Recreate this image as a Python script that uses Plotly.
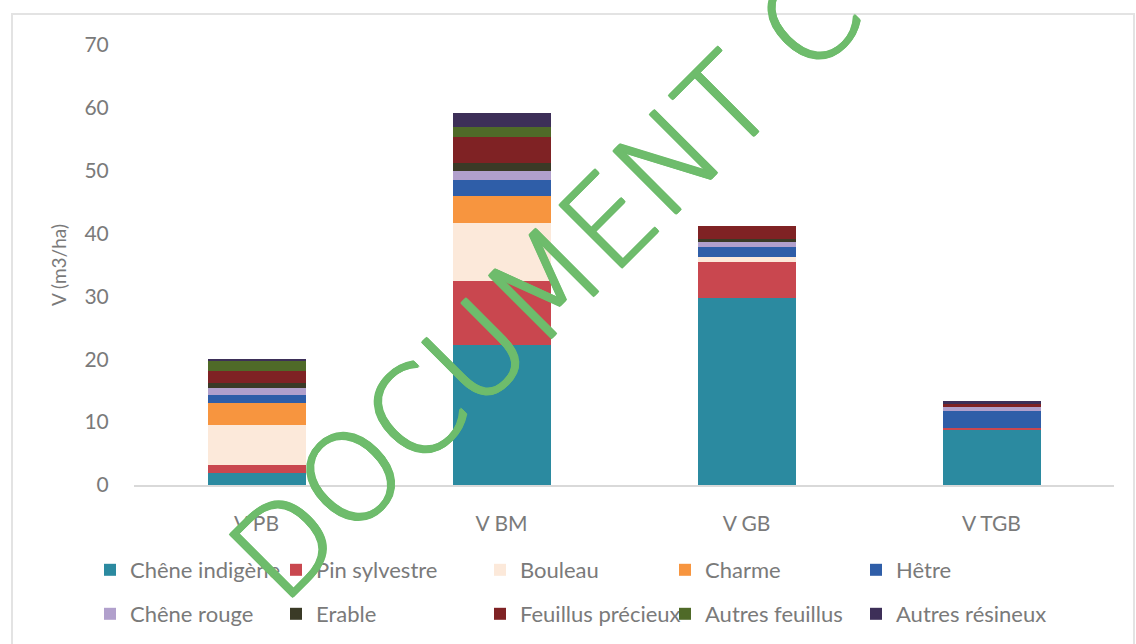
import plotly.graph_objects as go

# Volume per hectare by diameter class, stacked by species
categories = ["V PB", "V BM", "V GB", "V TGB"]

chene_indigene = [1.9, 22.3, 29.7, 8.8]
pin_sylvestre = [1.3, 10.1, 5.8, 0.2]
bouleau = [6.4, 9.3, 0.8, 0.0]
charme = [3.4, 4.2, 0.0, 0.0]
hetre = [1.3, 2.7, 1.6, 2.8]
chene_rouge = [1.1, 1.3, 0.8, 0.6]
erable = [0.8, 1.3, 0.4, 0.0]
feuillus_precieux = [2.0, 4.1, 2.1, 0.5]
autres_feuillus = [1.6, 1.7, 0.0, 0.0]
autres_resineux = [0.3, 2.2, 0.0, 0.4]

series = [
    ("Chêne indigène", chene_indigene, "#2b8aa0"),
    ("Pin sylvestre", pin_sylvestre, "#c9474f"),
    ("Bouleau", bouleau, "#fce9da"),
    ("Charme", charme, "#f7953f"),
    ("Hêtre", hetre, "#2f5ea8"),
    ("Chêne rouge", chene_rouge, "#b1a0cc"),
    ("Erable", erable, "#3a3a26"),
    ("Feuillus précieux", feuillus_precieux, "#7f2224"),
    ("Autres feuillus", autres_feuillus, "#4f6a28"),
    ("Autres résineux", autres_resineux, "#3d2f58"),
]

# Plot area geometry (pixels)
W, H = 1136, 644
L, R, T, B = 134, 22, 45, 159
PW, PH = W - L - R, H - T - B

def px_x(x):
    return (x - L) / PW

def px_y(y):
    return (H - B - y) / PH

TXT = "#7a7a7a"
FONT = "Lato, 'Open Sans', sans-serif"
FS = 21

# legend slots: two rows of five entries (page pixels)
leg_cols = [90, 276, 480, 665, 856]
leg_rows = [570, 614]

fig = go.Figure()
layout_legends = {}
for i, (name, vals, col) in enumerate(series):
    key = "legend" if i == 0 else f"legend{i + 1}"
    fig.add_trace(go.Bar(
        x=categories, y=vals, name=name, marker_color=col,
        marker_line_width=0, legend=key,
    ))
    r, c = divmod(i, 5)
    layout_legends[key] = dict(
        xref="container", yref="container",
        x=leg_cols[c] / W, y=1 - leg_rows[r] / H,
        xanchor="left", yanchor="middle", orientation="h",
        bgcolor="rgba(0,0,0,0)", font=dict(family=FONT, size=22, color=TXT),
        itemwidth=30,
    )

fig.update_layout(
    width=W, height=H,
    margin=dict(l=L, r=R, t=T, b=B),
    paper_bgcolor="white", plot_bgcolor="white",
    barmode="stack", bargap=0.6,
    showlegend=True,
    font=dict(family=FONT, size=FS, color=TXT),
    **layout_legends,
)

fig.update_yaxes(
    range=[0, 70], dtick=10, showgrid=False, zeroline=False,
    ticks="outside", ticklen=20, tickcolor="rgba(0,0,0,0)",
    tickfont=dict(family=FONT, size=FS, color=TXT),
    title=dict(text="V (m3/ha)", standoff=12, font=dict(family=FONT, size=19, color=TXT)),
)
fig.update_xaxes(
    showgrid=False, showline=True, linecolor="#d9d9d9", linewidth=1.5,
    ticks="outside", ticklen=19, tickcolor="rgba(0,0,0,0)",
    tickfont=dict(family=FONT, size=FS, color=TXT),
)

# chart-area frame
fig.add_shape(
    type="rect", xref="paper", yref="paper",
    x0=px_x(12), x1=px_x(1134), y0=px_y(660), y1=px_y(14),
    line=dict(color="#e3e3e3", width=2), fillcolor="rgba(0,0,0,0)", layer="below",
)

# watermark, thin strokes thickened with a ring of text shadows
WM = "rgb(110,188,108)"
ring = ", ".join(f"{dx}px {dy}px 0 {WM}" for dx, dy in
                 [(1, 0), (-1, 0), (0, 1), (0, -1), (1, 1), (-1, -1), (1, -1), (-1, 1)])
fig.add_annotation(
    xref="paper", yref="paper", x=px_x(546), y=px_y(284),
    text="DOCUMENT C", textangle=-45, showarrow=False,
    font=dict(family="DejaVu Sans", size=121, color=WM, weight=200, shadow=ring),
)

fig.write_html("out.html")
